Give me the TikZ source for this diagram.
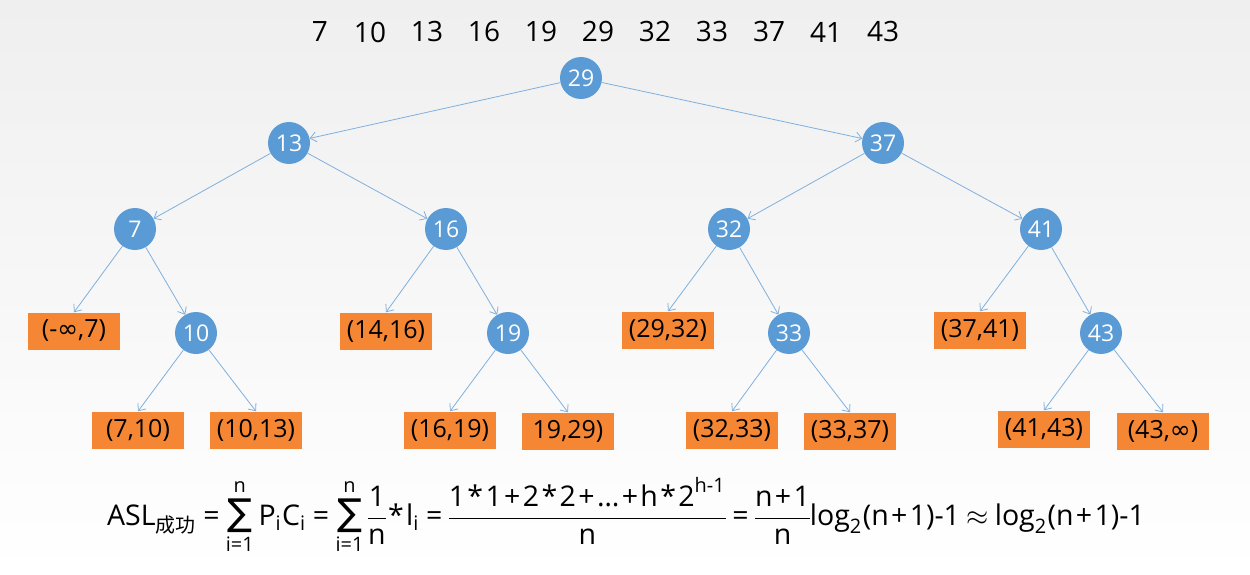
\documentclass[tikz,border=0pt]{standalone}
\usepackage{amsmath}
\usepackage{fontspec}
\setmainfont{Open Sans}
\newfontfamily\cjk{Noto Sans CJK SC}
\newfontfamily\dejavu{DejaVu Sans}
\usetikzlibrary{arrows.meta}
\definecolor{nodeblue}{HTML}{5B9BD5}
\definecolor{edgeblue}{HTML}{7FB0DD}
\definecolor{leaforange}{HTML}{F58634}
\definecolor{bgtop}{HTML}{EFEFEF}
\newcommand\bigsum{\mathop{\text{\dejavu\fontsize{13}{13}\selectfont\char"2211}}\limits}
\newcommand\eqsign{\mathrel{\text{=}}}
\newcommand\pl{\mathbin{\text{+}}}
\newcommand\st{\mathbin{\text{*}}}
\begin{document}
\begin{tikzpicture}[x=1pt,y=-1pt,
  inner/.style={circle,fill=nodeblue,minimum size=42pt,inner sep=0pt,text=white,font=\fontsize{23}{26}\selectfont},
  leaf/.style={rectangle,fill=leaforange,minimum width=92pt,minimum height=37pt,inner sep=0pt,font=\fontsize{25}{30}\selectfont},
  edge/.style={draw=edgeblue,line width=0.8pt,-{Straight Barb[length=6pt,width=10pt]}},
  key/.style={font=\fontsize{28}{32}\selectfont,inner sep=0pt}]
\shade[top color=bgtop,bottom color=white] (0,0) rectangle (1250,575);
\useasboundingbox (0,0) rectangle (1250,575);
% sorted keys
\foreach \v/\x [count=\i] in {7/320,10/370,13/427,16/484,19/541,29/598,32/655,33/712,37/769,41/826,43/883}
  \node[key] (k\i) at (\x,32) {\v};
% inner nodes
\node[inner] (n29) at (581,78) {29};
\node[inner] (n13) at (289,143) {13};
\node[inner] (n37) at (883,143) {37};
\node[inner] (n7) at (135,229) {7};
\node[inner] (n16) at (446,229) {16};
\node[inner] (n32) at (729,229) {32};
\node[inner] (n41) at (1041,229) {41};
\node[inner] (n10) at (196,333) {10};
\node[inner] (n19) at (508,333) {19};
\node[inner] (n33) at (789,333) {33};
\node[inner] (n43) at (1101,333) {43};
% leaves
\node[leaf] (la) at (74,331) {(-{\dejavu\char"221E},7)};
\node[leaf] (lb) at (386,331) {(14,16)};
\node[leaf] (lc) at (668,330) {(29,32)};
\node[leaf] (ld) at (980,330) {(37,41)};
\node[leaf] (le) at (138,430) {(7,10)};
\node[leaf] (lf) at (256,430) {(10,13)};
\node[leaf] (lg) at (450,430) {(16,19)};
\node[leaf] (lh) at (568,431) {19,29)};
\node[leaf] (li) at (732,430) {(32,33)};
\node[leaf] (lj) at (850,431) {(33,37)};
\node[leaf] (lk) at (1044,429) {(41,43)};
\node[leaf] (ll) at (1163,431) {(43,{\dejavu\char"221E})};
% edges
\draw[edge] (n29) -- (n13);
\draw[edge] (n29) -- (n37);
\draw[edge] (n13) -- (n7);
\draw[edge] (n13) -- (n16);
\draw[edge] (n37) -- (n32);
\draw[edge] (n37) -- (n41);
\draw[edge] (n7) -- (la.north);
\draw[edge] (n7) -- (n10);
\draw[edge] (n16) -- (lb.north);
\draw[edge] (n16) -- (n19);
\draw[edge] (n32) -- (lc.north);
\draw[edge] (n32) -- (n33);
\draw[edge] (n41) -- (ld.north);
\draw[edge] (n41) -- (n43);
\draw[edge] (n10) -- (le.north);
\draw[edge] (n10) -- (lf.north);
\draw[edge] (n19) -- (lg.north);
\draw[edge] (n19) -- (lh.north);
\draw[edge] (n33) -- (li.north);
\draw[edge] (n33) -- (lj.north);
\draw[edge] (n43) -- (lk.north);
\draw[edge] (n43) -- (ll.north);
% formula
\node[scale=2.85,inner sep=0pt] (asl) at (626,516) {\thickmuskip=4mu\medmuskip=1.5mu\nulldelimiterspace=0pt$\displaystyle
 \text{ASL}_{\text{\cjk 成功}} \eqsign \bigsum_{\text{i=1}}^{\text{n}} \text{P}_{\text{i}}\text{C}_{\text{i}}
 \eqsign \bigsum_{\text{i=1}}^{\text{n}}\frac{\text{1}}{\text{n}}\st\text{l}_{\text{i}}
 \eqsign \frac{\text{1}\st\text{1}\pl\text{2}\st\text{2}\pl\text{\dots}\pl\text{h}\st\text{2}^{\text{h-1}}}{\text{n}}
 \eqsign \frac{\text{n}\pl\text{1}}{\text{n}}\text{log}_{\text{2}}\text{(n}\pl\text{1)-1}
 \approx \text{log}_{\text{2}}\text{(n}\pl\text{1)-1}$};
\end{tikzpicture}
\end{document}
